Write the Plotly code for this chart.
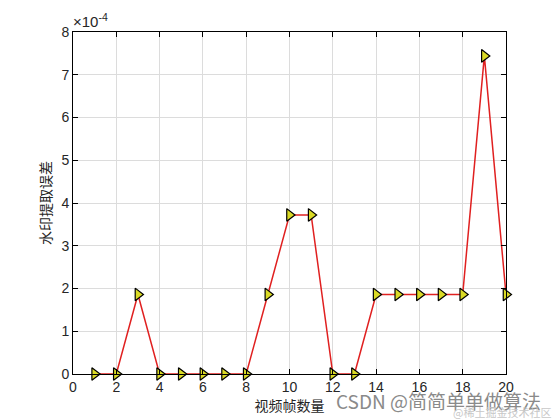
import plotly.graph_objects as go

# frame index and watermark extraction error (x 1e-4)
frames = list(range(1, 21))
errors = [0, 0, 1.86, 0, 0, 0, 0, 0, 1.86, 3.72, 3.72, 0, 0, 1.86, 1.86, 1.86, 1.86, 1.86, 7.44, 1.86]
x_ticks = list(range(0, 21, 2))
y_ticks = list(range(0, 9))

# page body has an 8px margin, so margins are shifted to land the axes where the reference has them
L, R, T, B = 65, 62, 24, 54
W, H = 560, 420
pw, ph = W - L - R, H - T - B

fig = go.Figure()

fig.add_trace(go.Scatter(
    x=frames,
    y=errors,
    mode='lines+markers',
    line=dict(color='#E02020', width=1.5),
    marker=dict(symbol='triangle-right', size=11, color='#DADA26',
                line=dict(color='black', width=1.2)),
    cliponaxis=False,
    showlegend=False,
))

axis_common = dict(
    showline=True,
    linecolor='black',
    linewidth=1,
    mirror='allticks',
    ticks='inside',
    ticklen=5,
    tickcolor='black',
    showgrid=True,
    gridcolor='#DCDCDC',
    gridwidth=1,
    zeroline=False,
    tickfont=dict(family='Liberation Sans, Arial', size=14, color='#262626'),
)

fig.update_xaxes(range=[0, 20], tickvals=x_ticks, **axis_common,
                 title=dict(text='视频帧数量', standoff=4,
                            font=dict(family='Noto Sans CJK SC', size=14, color='#262626')))
fig.update_yaxes(range=[0, 8], tickvals=y_ticks, **axis_common,
                 title=dict(text='水印提取误差', standoff=6,
                            font=dict(family='Noto Sans CJK SC', size=14, color='#262626')))

# exponent label
fig.add_annotation(x=0, y=1, xref='paper', yref='paper', xanchor='left', yanchor='bottom',
                   text='×10<sup>-4</sup>', showarrow=False, yshift=0, xshift=-2,
                   font=dict(family='Liberation Sans, Arial', size=15, color='#262626'))

# watermarks (screen coords minus the 8px body offset)
fig.add_annotation(x=(535 - L) / pw, y=-(392 - (H - B)) / ph, xref='paper', yref='paper',
                   showarrow=False, text='CSDN @简简单单做算法', xanchor='right', yanchor='middle',
                   font=dict(family='Noto Sans CJK SC', size=19, color='#8A8A8A'))
fig.add_annotation(x=(545 - L) / pw, y=-(404 - (H - B)) / ph, xref='paper', yref='paper',
                   showarrow=False, text='@稀土掘金技术社区', xanchor='right', yanchor='middle',
                   font=dict(family='Noto Sans CJK SC', size=11, color='#C8C8C8'))

fig.update_layout(
    width=W,
    height=H,
    margin=dict(l=L, r=R, t=T, b=B),
    paper_bgcolor='white',
    plot_bgcolor='white',
)

fig.write_html("out.html")
